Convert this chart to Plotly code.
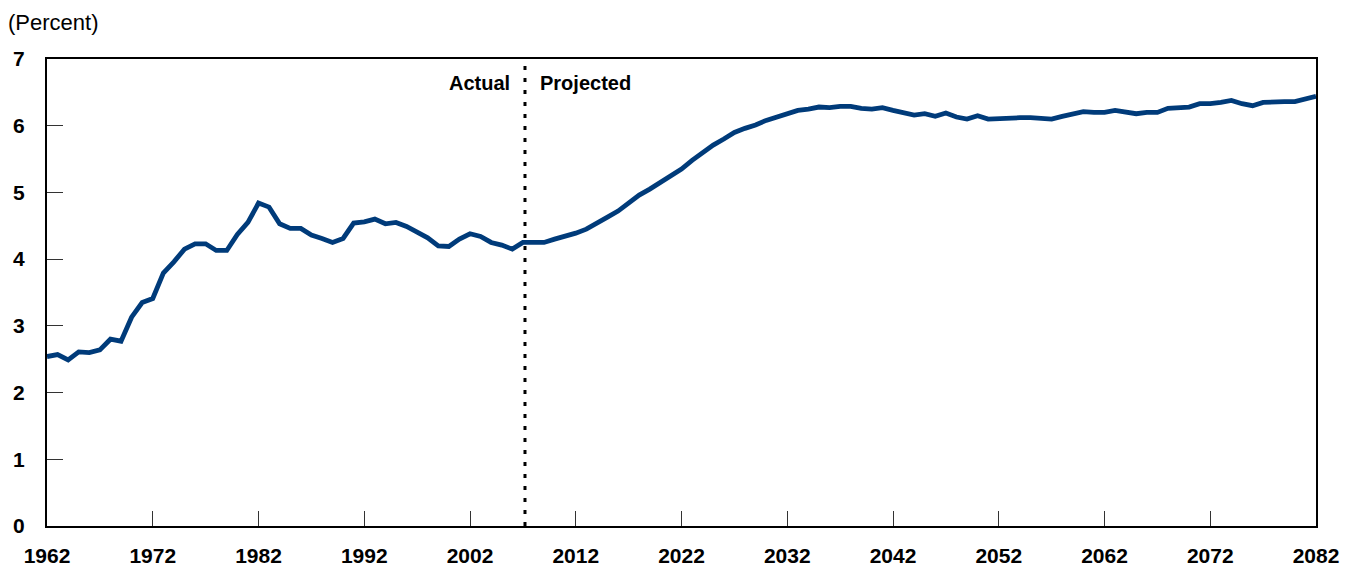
import plotly.graph_objects as go

years = list(range(1962, 2083))
values = [
    # 1962-1971
    2.54, 2.57, 2.49, 2.61, 2.60, 2.64, 2.80, 2.77, 3.13, 3.35,
    # 1972-1981
    3.41, 3.79, 3.96, 4.15, 4.23, 4.23, 4.13, 4.13, 4.37, 4.55,
    # 1982-1991
    4.84, 4.78, 4.53, 4.46, 4.46, 4.36, 4.31, 4.25, 4.31, 4.54,
    # 1992-2001
    4.56, 4.60, 4.53, 4.55, 4.49, 4.40, 4.32, 4.20, 4.19, 4.30,
    # 2002-2011
    4.38, 4.34, 4.25, 4.21, 4.15, 4.25, 4.25, 4.25, 4.30, 4.34,
    # 2012-2021
    4.39, 4.45, 4.53, 4.63, 4.72, 4.85, 4.96, 5.05, 5.15, 5.23,
    # 2022-2031
    5.35, 5.48, 5.60, 5.71, 5.80, 5.90, 5.96, 6.01, 6.08, 6.13,
    # 2032-2041
    6.19, 6.23, 6.25, 6.28, 6.27, 6.29, 6.29, 6.26, 6.25, 6.27,
    # 2042-2051
    6.23, 6.19, 6.16, 6.18, 6.14, 6.19, 6.13, 6.10, 6.15, 6.10,
    # 2052-2061
    6.11, 6.12, 6.12, 6.12, 6.11, 6.10, 6.14, 6.17, 6.21, 6.20,
    # 2062-2071
    6.20, 6.23, 6.21, 6.18, 6.20, 6.20, 6.26, 6.27, 6.28, 6.33,
    # 2072-2082
    6.33, 6.35, 6.38, 6.33, 6.30, 6.35, 6.36, 6.36, 6.36, 6.40, 6.44,
]

x_ticks = list(range(1962, 2083, 10))
y_ticks = [0, 1, 2, 3, 4, 5, 6, 7]
divider_year = 2007.2
label_left = "Actual"
label_right = "Projected"
y_title = "(Percent)"

FONT = "Liberation Sans, Arial, sans-serif"

fig = go.Figure()
fig.add_trace(go.Scatter(
    x=years, y=values, mode="lines",
    line=dict(color="#003b7a", width=4.8),
    hoverinfo="x+y", showlegend=False,
))

fig.add_shape(type="line", xref="x", yref="paper",
              x0=divider_year, x1=divider_year, y0=0, y1=0.99,
              line=dict(color="black", width=3, dash="4px,8px"))

fig.add_annotation(x=divider_year, y=6.64, xref="x", yref="y",
                   text="<b>%s</b>" % label_left, showarrow=False,
                   xanchor="right", xshift=-13,
                   font=dict(family=FONT, size=20, color="black"))
fig.add_annotation(x=divider_year, y=6.64, xref="x", yref="y",
                   text="<b>%s</b>" % label_right, showarrow=False,
                   xanchor="left", xshift=13,
                   font=dict(family=FONT, size=20, color="black"))
fig.add_annotation(x=0, y=1, xref="paper", yref="paper",
                   xanchor="left", yanchor="bottom",
                   xshift=-41, yshift=22,
                   text=y_title, showarrow=False,
                   font=dict(family=FONT, size=22, color="black"))

fig.update_xaxes(
    range=[1962, 2082], tickvals=x_ticks, ticktext=[str(t) for t in x_ticks],
    ticks="inside", ticklen=15, tickwidth=1, tickcolor="#333",
    showline=True, linecolor="black", linewidth=2, mirror=True,
    showgrid=False, zeroline=False, automargin=False,
    tickfont=dict(family=FONT, size=21, color="black", weight="bold"),
    ticklabelstandoff=10,
)
fig.update_yaxes(
    range=[0, 7], tickvals=y_ticks, ticktext=[str(t) for t in y_ticks],
    ticks="inside", ticklen=16, tickwidth=1, tickcolor="#333",
    showline=True, linecolor="black", linewidth=2, mirror=True,
    showgrid=False, zeroline=False, automargin=False,
    tickfont=dict(family=FONT, size=21, color="black", weight="bold"),
    ticklabelstandoff=16,
)

fig.update_layout(
    width=1353, height=574,
    margin=dict(l=39, r=45, t=51, b=56),
    paper_bgcolor="white", plot_bgcolor="white",
    font=dict(family=FONT),
)

fig.write_html("out.html")
